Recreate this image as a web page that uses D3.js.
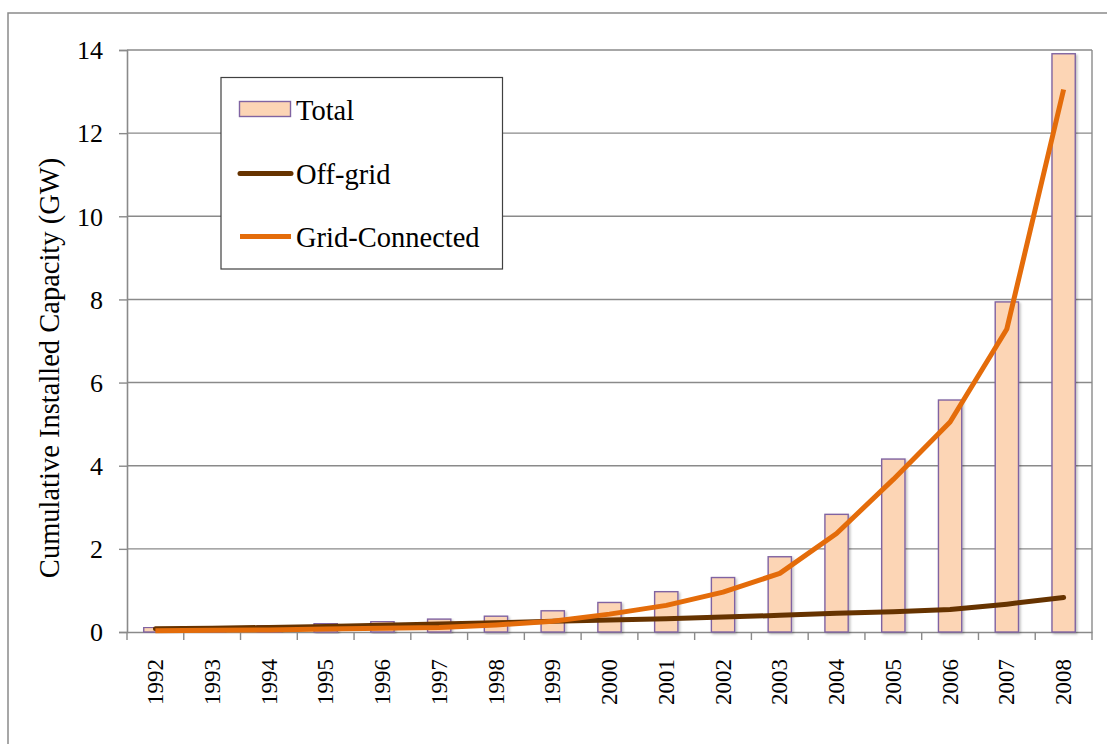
<!DOCTYPE html>
<html>
<head>
<meta charset="utf-8">
<script src="https://cdn.jsdelivr.net/npm/d3@7"></script>
<style>
  html, body { margin: 0; padding: 0; background: #fff; }
  svg text { font-family: 'Liberation Serif', 'Times New Roman', serif !important; }
</style>
</head>
<body>
<svg id="chart" width="1107" height="744"></svg>
<script>
const years = ["1992","1993","1994","1995","1996","1997","1998","1999","2000","2001","2002","2003","2004","2005","2006","2007","2008"];
const totalValues = [0.11, 0.13, 0.16, 0.20, 0.25, 0.31, 0.38, 0.51, 0.71, 0.97, 1.31, 1.81, 2.83, 4.16, 5.58, 7.94, 13.91];
const offGridValues = [0.08, 0.09, 0.11, 0.13, 0.16, 0.19, 0.22, 0.26, 0.29, 0.32, 0.36, 0.40, 0.45, 0.49, 0.54, 0.67, 0.83];
const gridValues = [0.03, 0.04, 0.05, 0.07, 0.09, 0.11, 0.17, 0.26, 0.43, 0.64, 0.96, 1.41, 2.37, 3.67, 5.05, 7.29, 13.05];
const yTicks = [0, 2, 4, 6, 8, 10, 12, 14];
const seriesNames = ["Total", "Off-grid", "Grid-Connected"];
const yTitle = "Cumulative Installed Capacity (GW)";

const FONT = "'Liberation Serif', 'Times New Roman', serif";
const svg = d3.select("#chart");
const pLeft = 127, pRight = 1092, pTop = 50, pBottom = 632;
const gridColor = "#8a8a8a";

// outer chart border
svg.append("rect").attr("x", 8).attr("y", 13).attr("width", 1120).attr("height", 760)
  .attr("fill", "#fff").attr("stroke", gridColor).attr("stroke-width", 1.5);

const x = d3.scaleBand().domain(years).range([pLeft, pRight]).paddingInner(0.59).paddingOuter(0.295);
const xc = d3.scaleBand().domain(years).range([pLeft, pRight]);
const y = d3.scaleLinear().domain([0, 14]).range([pBottom, pTop]);

// gridlines
svg.append("g").selectAll("line").data(yTicks.filter(d => d > 0)).join("line")
  .attr("x1", pLeft).attr("x2", pRight).attr("y1", d => y(d)).attr("y2", d => y(d))
  .attr("stroke", gridColor).attr("stroke-width", 1.4);
// right border of plot area
svg.append("line").attr("x1", pRight).attr("x2", pRight).attr("y1", pTop).attr("y2", pBottom)
  .attr("stroke", gridColor).attr("stroke-width", 1.4);

// y axis
const yAxis = svg.append("g").attr("transform", `translate(${pLeft},0)`)
  .call(d3.axisLeft(y).tickValues(yTicks).tickSize(8).tickPadding(16).tickFormat(d3.format("d")));
yAxis.attr("font-family", FONT);
yAxis.select(".domain").attr("stroke", gridColor).attr("stroke-width", 1.6);
yAxis.selectAll(".tick line").attr("stroke", gridColor).attr("stroke-width", 1.4);
yAxis.selectAll(".tick text").attr("font-size", 26).attr("fill", "#000")
  .attr("font-family", FONT).attr("dy", "0.34em");

// x axis
const xAxis = svg.append("g").attr("transform", `translate(0,${pBottom})`)
  .call(d3.axisBottom(xc).tickSize(0).tickFormat(""));
xAxis.select(".domain").attr("stroke", gridColor).attr("stroke-width", 1.6);
// boundary ticks
const tickPos = years.map(d => xc(d)).concat([pRight]);
svg.append("g").selectAll("line").data(tickPos).join("line")
  .attr("x1", d => d).attr("x2", d => d).attr("y1", pBottom).attr("y2", pBottom + 8)
  .attr("stroke", gridColor).attr("stroke-width", 1.4);
// year labels
svg.append("g").selectAll("text").data(years).join("text")
  .attr("transform", d => `translate(${xc(d) + xc.bandwidth() / 2},659) rotate(-90)`)
  .attr("text-anchor", "end").attr("dy", "0.33em")
  .attr("font-size", 23).attr("font-family", FONT).attr("fill", "#000")
  .text(d => d);

// y title
svg.append("text")
  .attr("transform", `translate(50,368) rotate(-90)`)
  .attr("text-anchor", "middle").attr("dy", "0.33em")
  .attr("font-size", 28.5).attr("font-family", FONT).attr("fill", "#000")
  .text(yTitle);

// shadow filter
const defs = svg.append("defs");
const f = defs.append("filter").attr("id", "sh").attr("x", "-20%").attr("y", "-5%").attr("width", "150%").attr("height", "120%");
f.append("feDropShadow").attr("dx", 1.5).attr("dy", 1.5).attr("stdDeviation", 1.2).attr("flood-color", "#000").attr("flood-opacity", 0.25);

// bars
svg.append("g").selectAll("rect").data(years).join("rect")
  .attr("x", d => x(d)).attr("width", x.bandwidth())
  .attr("y", (d, i) => y(totalValues[i])).attr("height", (d, i) => y(0) - y(totalValues[i]))
  .attr("fill", "#FCD5B5").attr("stroke", "#8064A2").attr("stroke-width", 1.4)
  .attr("filter", "url(#sh)");

const line = d3.line().x((d, i) => xc(years[i]) + xc.bandwidth() / 2).y(d => y(d));
svg.append("path").datum(offGridValues).attr("d", line)
  .attr("fill", "none").attr("stroke", "#663300").attr("stroke-width", 5)
  .attr("stroke-linecap", "round").attr("stroke-linejoin", "round");
svg.append("path").datum(gridValues).attr("d", line)
  .attr("fill", "none").attr("stroke", "#E46C0A").attr("stroke-width", 5)
  .attr("stroke-linecap", "butt").attr("stroke-linejoin", "round");

// legend
const lg = svg.append("g");
lg.append("rect").attr("x", 221).attr("y", 77.5).attr("width", 281.5).attr("height", 191.5)
  .attr("fill", "#fff").attr("stroke", "#404040").attr("stroke-width", 1.2);
lg.append("rect").attr("x", 239.5).attr("y", 101.5).attr("width", 51).attr("height", 15)
  .attr("fill", "#FCD5B5").attr("stroke", "#8064A2").attr("stroke-width", 1.4);
lg.append("line").attr("x1", 240).attr("x2", 291).attr("y1", 173.5).attr("y2", 173.5)
  .attr("stroke", "#663300").attr("stroke-width", 5).attr("stroke-linecap", "round");
lg.append("line").attr("x1", 240).attr("x2", 291).attr("y1", 236.5).attr("y2", 236.5)
  .attr("stroke", "#E46C0A").attr("stroke-width", 5);
const ly = [120, 183.5, 247];
lg.selectAll("text.l").data(seriesNames).join("text").attr("class", "l")
  .attr("x", 296).attr("y", (d, i) => ly[i])
  .attr("font-size", 28.5).attr("font-family", FONT).attr("fill", "#000").text(d => d);
</script>
</body>
</html>
